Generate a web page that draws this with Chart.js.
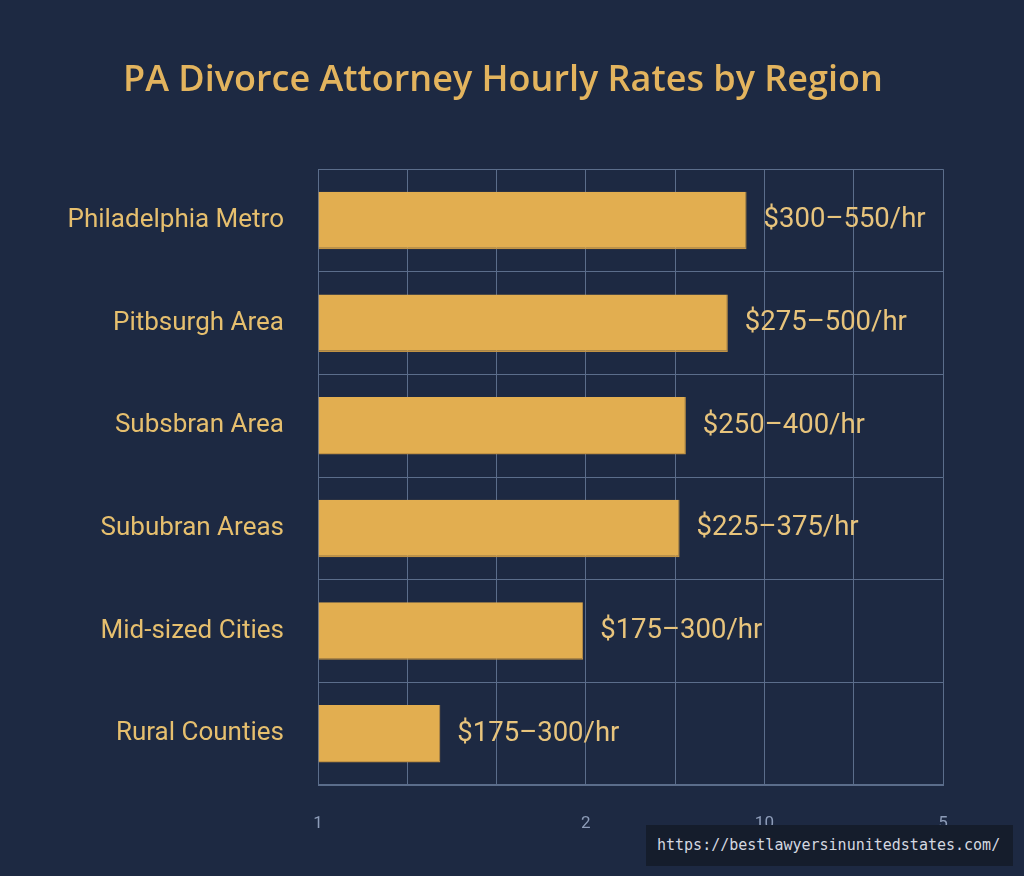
<!DOCTYPE html>
<html>
<head>
<meta charset="utf-8">
<script src="https://cdn.jsdelivr.net/npm/chart.js@4"></script>
<style>
  html, body { margin: 0; padding: 0; background: #1d2942; }
  #wrap { position: relative; width: 1024px; height: 876px; }
  #watermark {
    position: absolute; left: 646px; top: 825px; width: 367px; height: 41px;
    background: #151d2c; color: #d4d8e0;
    font-family: "DejaVu Sans Mono", monospace; font-size: 15px;
    line-height: 41px; box-sizing: border-box; padding-left: 11px; white-space: nowrap;
  }
</style>
</head>
<body>
<div id="wrap">
  <canvas id="c" width="1024" height="876"></canvas>
  <div id="watermark">https://bestlawyersinunitedstates.com/</div>
</div>
<script>
const categories = ["Philadelphia Metro", "Pitbsurgh Area", "Subsbran Area", "Sububran Areas", "Mid-sized Cities", "Rural Counties"];
const barValues = [4.80, 4.59, 4.12, 4.05, 2.97, 1.37];
const rateLabels = ["$300–550/hr", "$275–500/hr", "$250–400/hr", "$225–375/hr", "$175–300/hr", "$175–300/hr"];
const xTickLabels = ["1", "", "", "2", "", "10", "", "5"];

const valueLabelPlugin = {
  id: 'valueLabels',
  afterDatasetsDraw(chart) {
    const ctx = chart.ctx;
    const meta = chart.getDatasetMeta(0);
    ctx.save();
    ctx.font = '27.5px Roboto';
    ctx.fillStyle = '#e8c47c';
    ctx.textAlign = 'left';
    ctx.textBaseline = 'middle';
    meta.data.forEach((bar, i) => {
      ctx.fillText(rateLabels[i], bar.x + 17, bar.y);
    });
    ctx.restore();
  }
};

const gridColor = '#5b6d8b';

new Chart(document.getElementById('c'), {
  type: 'bar',
  data: {
    labels: categories,
    datasets: [{
      data: barValues,
      backgroundColor: '#e2ae50',
      borderColor: '#c29344',
      borderWidth: {bottom: 1.5, right: 1, top: 0, left: 0},
      borderSkipped: false,
      barPercentage: 0.56,
      categoryPercentage: 1.0
    }]
  },
  options: {
    indexAxis: 'y',
    responsive: false,
    animation: false,
    layout: { padding: { left: 0, right: 18, top: 0, bottom: 0 } },
    plugins: {
      legend: { display: false },
      tooltip: { enabled: false },
      title: {
        display: true,
        text: 'PA Divorce Attorney Hourly Rates by Region',
        color: '#e3b45e',
        font: { family: 'Open Sans', size: 36, weight: '600', lineHeight: 1.2 },
        padding: { top: 59, bottom: 67 }
      }
    },
    scales: {
      x: {
        type: 'linear',
        min: 0, max: 7,
        ticks: {
          stepSize: 1,
          color: '#8d9cb8',
          font: { family: 'Roboto', size: 17 },
          padding: 29,
          maxRotation: 0,
          autoSkip: false,
          callback: (v) => xTickLabels[v] ?? ''
        },
        grid: { color: gridColor, lineWidth: 1, drawTicks: false },
        border: { color: gridColor },
        afterFit(scale) { scale.height = 91; scale.paddingRight = 81; }
      },
      y: {
        ticks: {
          color: '#e6bf6e',
          font: { family: 'Roboto', size: 26 },
          padding: 34
        },
        grid: { color: gridColor, lineWidth: 1, drawTicks: false, offset: true },
        border: { color: gridColor },
        afterFit(scale) { scale.width = 318; }
      }
    }
  },
  plugins: [valueLabelPlugin]
});
</script>
</body>
</html>
